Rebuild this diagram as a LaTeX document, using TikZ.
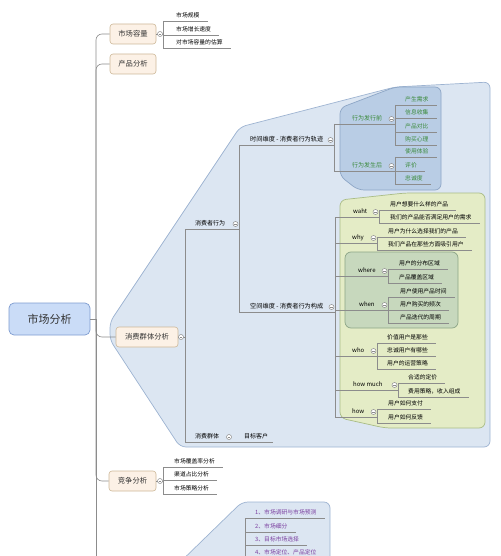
\documentclass[tikz,border=0pt]{standalone}
\usepackage{fontspec}
\setmainfont{Noto Sans CJK SC}
\definecolor{linec}{HTML}{8C8C8C}
\definecolor{rgnF}{HTML}{DCE6F2}
\definecolor{rgnB}{HTML}{9DB3D1}
\definecolor{dbF}{HTML}{B9CDE5}
\definecolor{dbB}{HTML}{8DA6C6}
\definecolor{grF}{HTML}{E4ECC6}
\definecolor{grB}{HTML}{A9BC86}
\definecolor{dgF}{HTML}{C7D8BD}
\definecolor{dgB}{HTML}{8CA587}
\definecolor{brF}{HTML}{FCF1E6}
\definecolor{brB}{HTML}{CDB898}
\definecolor{rtF}{HTML}{CADCF7}
\definecolor{rtB}{HTML}{7E9CD0}
\definecolor{gtxt}{HTML}{3A8A3A}
\definecolor{ptxt}{HTML}{7B3FA0}
% [colour] name, parent bracket x, text x, underline y, text
\newcommand\mmleaf[6][black]{%
  \node[leaf,text=#1] (#2) at (#4-5,#5) {#6};
  \draw[conn] (#3,#5) -- ([xshift=3pt]#2.south east);}
% [colour] name, parent bracket x, text x, underline y, own bracket x, text
\newcommand\mmmid[7][black]{%
  \node[midn,text=#1] (#2) at (#4-5,#5) {#7};
  \draw[conn] (#3,#5) -- (#6,#5);
  \node[tog] (#2-c) at (#6-3.5,#5-5) {};}
\begin{document}
\begin{tikzpicture}[x=1pt,y=-1pt,
  conn/.style={draw=linec,line width=0.6pt},
  leaf/.style={anchor=south west,inner xsep=5pt,inner ysep=2pt,text height=0.8em,text depth=0.15em,font=\fontsize{5.8}{7}\selectfont},
  midn/.style={anchor=south west,inner xsep=5pt,inner ysep=2pt,text height=0.8em,text depth=0.15em,font=\fontsize{6}{7}\selectfont},
  tog/.style={circle,draw=linec,fill=white,minimum size=5pt,inner sep=0pt,line width=0.5pt,
    path picture={\draw[linec,line width=0.4pt] ([xshift=-1.3pt]path picture bounding box.center) -- ([xshift=1.3pt]path picture bounding box.center);}},
  branch/.style={draw=brB,fill=brF,rounded corners=3pt,minimum height=20pt,inner xsep=8pt,font=\fontsize{7.3}{8}\selectfont,line width=0.6pt,text=black!80},
  root/.style={draw=rtB,fill=rtF,rounded corners=5pt,minimum width=81pt,minimum height=32pt,font=\fontsize{11}{12}\selectfont,line width=0.7pt,text=black!80},
  region/.style={line width=0.7pt,rounded corners=6pt}]
\useasboundingbox (0,0) rectangle (500,556);
\clip (0,0) rectangle (500,556);
% regions
\path[region,draw=rgnB,fill=rgnF] (240,127) -- (395,87) -- (490,82) -- (490,447) -- (180,447) -- (110,340) -- (110,322) -- cycle;
\path[region,draw=dbB,fill=dbF] (395,87) -- (441,87) -- (441,190) -- (358,190) -- (340,176) -- (340,108) -- cycle;
\path[region,draw=grB,fill=grF] (405,193) -- (485,193) -- (485,428) -- (385,428) -- (340,418) -- (340,200) -- cycle;
\path[region,draw=dgB,fill=dgF] (345,252) rectangle (458,328);
\path[region,draw=rgnB,fill=rgnF] (170,572) -- (242,502) -- (330,502) -- (330,572) -- cycle;
% root and trunk
\node[root] (root) at (49.5,319) {市场分析};
\coordinate (tr) at (96,319);
\node[branch,minimum width=46pt] (mc) at (133,34) {市场容量};
\node[branch,minimum width=46pt] (pa) at (133,64) {产品分析};
\node[branch,minimum width=62pt] (cq) at (147,337) {消费群体分析};
\node[branch,minimum width=47pt] (jz) at (132.5,481) {竞争分析};
\coordinate (tb) at (96,560);
\draw[conn] (root.east) -- (tr);
\draw[conn,rounded corners=6pt] (tr) |- (mc.west);
\draw[conn,rounded corners=6pt] (tr) |- (pa.west);
\draw[conn,rounded corners=6pt] (tr) |- (cq.west);
\draw[conn,rounded corners=6pt] (tr) |- (jz.west);
\draw[conn] (tr) -- (tb);
% 市场容量
\draw[conn] (mc.east) -- (163,34);
\node[tog] (mc-c) at (160,34) {};
\draw[conn] (163,21) -- (163,48);
\mmleaf{mc1}{163}{176}{21}{市场规模}
\mmleaf{mc2}{163}{176}{35}{市场增长速度}
\mmleaf{mc3}{163}{176}{48}{对市场容量的估算}
% 竞争分析
\draw[conn] (jz.east) -- (163,481);
\node[tog] (jz-c) at (160,481) {};
\draw[conn] (163,467) -- (163,494);
\mmleaf{jz1}{163}{174}{467}{市场覆盖率分析}
\mmleaf{jz2}{163}{174}{480}{渠道占比分析}
\mmleaf{jz3}{163}{174}{494}{市场策略分析}
% 消费群体分析
\draw[conn] (cq.east) -- (185,337);
\node[tog] (cq-c) at (181,337) {};
\draw[conn] (185,229) -- (185,442);
\mmmid{xw}{185}{195}{229}{239}{消费者行为}
\node[midn] (qt) at (190,442) {消费群体};
\node[midn] (mk) at (239,442) {目标客户};
\draw[conn] (185,442) -- (mk.south east);
\node[tog] (qt-c) at (229,437) {};
% 消费者行为
\draw[conn] (239,145) -- (239,312);
\mmmid{sj}{239}{250}{145}{334}{\fontsize{6.2}{7}\selectfont 时间维度 - 消费者行为轨迹}
\mmmid{kj}{239}{250}{312}{335}{\fontsize{6.2}{7}\selectfont 空间维度 - 消费者行为构成}
% 时间维度
\draw[conn] (334,124) -- (334,171);
\mmmid[gtxt]{qq}{334}{352}{124}{395}{行为发行前}
\mmmid[gtxt]{hh}{334}{352}{171}{395}{行为发生后}
\draw[conn] (395,105) -- (395,145);
\mmleaf[gtxt]{q1}{395}{405}{105}{产生需求}
\mmleaf[gtxt]{q2}{395}{405}{118}{信息收集}
\mmleaf[gtxt]{q3}{395}{405}{132}{产品对比}
\mmleaf[gtxt]{q4}{395}{405}{145}{购买心理}
\draw[conn] (395,157) -- (395,184);
\mmleaf[gtxt]{h1}{395}{405}{157}{使用体验}
\mmleaf[gtxt]{h2}{395}{405}{171}{评价}
\mmleaf[gtxt]{h3}{395}{405}{184}{忠诚度}
% 空间维度
\draw[conn] (335,217) -- (335,417);
\mmmid{wa}{335}{353}{217}{379}{waht}
\draw[conn] (379,210) -- (379,223);
\mmleaf{wa1}{379}{390}{210}{用户想要什么样的产品}
\mmleaf{wa2}{379}{390}{223}{我们的产品能否满足用户的需求}
\mmmid{wy}{335}{352}{243}{377}{why}
\draw[conn] (377,237) -- (377,250);
\mmleaf{wy1}{377}{388}{237}{用户为什么选择我们的产品}
\mmleaf{wy2}{377}{388}{250}{我们产品在那些方面吸引用户}
\mmmid{wr}{335}{358}{276}{388}{where}
\draw[conn] (388,269) -- (388,283);
\mmleaf{wr1}{388}{399}{269}{用户的分布区域}
\mmleaf{wr2}{388}{399}{283}{产品覆盖区域}
\mmmid{wn}{335}{359}{310}{388}{when}
\draw[conn] (388,297) -- (388,323);
\mmleaf{wn1}{388}{400}{297}{用户使用产品时间}
\mmleaf{wn2}{388}{400}{310}{用户购买的频次}
\mmleaf{wn3}{388}{400}{323}{产品迭代的周期}
\mmmid{wo}{335}{352}{356}{377}{who}
\draw[conn] (377,343) -- (377,369);
\mmleaf{wo1}{377}{387}{343}{价值用户是那些}
\mmleaf{wo2}{377}{387}{356}{忠诚用户有哪些}
\mmleaf{wo3}{377}{387}{369}{用户的运营策略}
\mmmid{hm}{335}{353}{390}{398}{how much}
\draw[conn] (398,383) -- (398,397);
\mmleaf{hm1}{398}{408}{383}{合适的定价}
\mmleaf{hm2}{398}{408}{397}{费用策略，收入组成}
\mmmid{hw}{335}{352}{417}{377}{how}
\draw[conn] (377,409) -- (377,423);
\mmleaf{hw1}{377}{388}{409}{用户如何支付}
\mmleaf{hw2}{377}{388}{423}{用户如何反馈}
% purple list
\coordinate (pb) at (245,560);
\draw[conn] (245,518) -- (pb);
\mmleaf[ptxt]{p1}{245}{255}{518}{1、市场调研与市场预测}
\mmleaf[ptxt]{p2}{245}{255}{532}{2、市场细分}
\mmleaf[ptxt]{p3}{245}{255}{545}{3、目标市场选择}
\mmleaf[ptxt]{p4}{245}{255}{558}{4、市场定位、产品定位}
\end{tikzpicture}
\end{document}
